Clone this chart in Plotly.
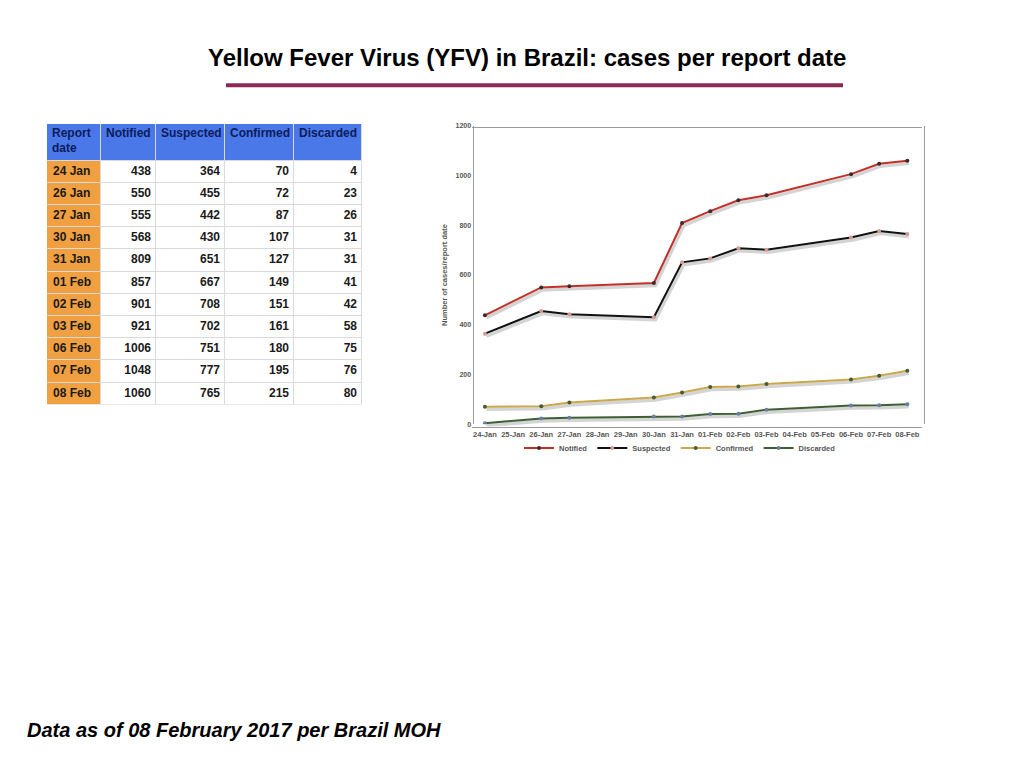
import plotly.graph_objects as go

# report dates and counts (Brazil MOH, as of 08 Feb 2017)
report_dates = ["2017-01-24", "2017-01-26", "2017-01-27", "2017-01-30", "2017-01-31",
                "2017-02-01", "2017-02-02", "2017-02-03", "2017-02-06", "2017-02-07",
                "2017-02-08"]
date_labels = ["24 Jan", "26 Jan", "27 Jan", "30 Jan", "31 Jan", "01 Feb", "02 Feb",
               "03 Feb", "06 Feb", "07 Feb", "08 Feb"]
notified = [438, 550, 555, 568, 809, 857, 901, 921, 1006, 1048, 1060]
suspected = [364, 455, 442, 430, 651, 667, 708, 702, 751, 777, 765]
confirmed = [70, 72, 87, 107, 127, 149, 151, 161, 180, 195, 215]
discarded = [4, 23, 26, 31, 31, 41, 42, 58, 75, 76, 80]

header_labels = ["Report<br>date", "Notified", "Suspected", "Confirmed", "Discarded"]

# the page body has an 8px margin, so the figure is a bit smaller than the window
PAGE_W, PAGE_H = 1024, 768
OFF = 8
W, H = PAGE_W - 2 * OFF, PAGE_H - 2 * OFF


def px_x(v):
    return (v - OFF) / W


def px_y(v):
    return 1 - (v - OFF) / H


FONT = "Liberation Sans, Arial"
BLUE = "#4A78E8"
ORANGE = "#F0A040"

fig = go.Figure()

# ---- table, drawn as a heatmap (cell fills) plus text ----
col_w = [54, 55, 69, 69, 68]
head_h = 37
row_h = 22.4
tab_left, tab_top = 47, 121

x_edges = [0]
for w in col_w:
    x_edges.append(x_edges[-1] + w)
y_edges = [0, head_h]
for _ in date_labels:
    y_edges.append(y_edges[-1] + row_h)
tab_w, tab_h = x_edges[-1], y_edges[-1]
row_mid = [(y_edges[i + 1] + y_edges[i + 2]) / 2 for i in range(len(date_labels))]

z = [[2] * len(col_w)] + [[1] + [0] * (len(col_w) - 1) for _ in date_labels]

fig.add_trace(go.Heatmap(
    x=x_edges, y=y_edges, z=z, xaxis="x2", yaxis="y2",
    zmin=0, zmax=2, showscale=False, hoverinfo="skip",
    colorscale=[[0, "white"], [0.33, "white"], [0.33, ORANGE], [0.66, ORANGE],
                [0.66, BLUE], [1, BLUE]],
    xgap=1, ygap=1,
))

fig.add_trace(go.Scatter(
    x=[x_edges[i] + 5 for i in range(len(col_w))], y=[4] * len(col_w),
    text=["<b>%s</b>" % h for h in header_labels],
    mode="text", textposition="bottom right", xaxis="x2", yaxis="y2",
    textfont=dict(family=FONT, size=12, color="#0C1C5C"),
    showlegend=False, hoverinfo="skip", cliponaxis=False,
))
fig.add_trace(go.Scatter(
    x=[x_edges[0] + 6] * len(date_labels), y=row_mid,
    text=["<b>%s</b>" % d for d in date_labels],
    mode="text", textposition="middle right", xaxis="x2", yaxis="y2",
    textfont=dict(family=FONT, size=12, color="#1A1A1A"),
    showlegend=False, hoverinfo="skip", cliponaxis=False,
))
for j, col in enumerate([notified, suspected, confirmed, discarded]):
    fig.add_trace(go.Scatter(
        x=[x_edges[j + 2] - 5] * len(col), y=row_mid,
        text=["<b>%d</b>" % v for v in col],
        mode="text", textposition="middle left", xaxis="x2", yaxis="y2",
        textfont=dict(family=FONT, size=12, color="#1A1A1A"),
        showlegend=False, hoverinfo="skip", cliponaxis=False,
    ))

# ---- line chart (with a soft drop shadow on a slightly shifted copy of the axes) ----
series = [
    ("Notified", notified, "#C2302A", "#3A2A2A"),
    ("Suspected", suspected, "#111111", "#D89A90"),
    ("Confirmed", confirmed, "#CBA84A", "#4A5A30"),
    ("Discarded", discarded, "#3E5E34", "#6A7EA0"),
]

for name, vals, line_col, marker_col in series:
    fig.add_trace(go.Scatter(
        x=report_dates, y=vals, mode="lines", xaxis="x", yaxis="y",
        line=dict(color="rgba(60,60,60,0.22)", width=3.5),
        showlegend=False, hoverinfo="skip",
    ))

for name, vals, line_col, marker_col in series:
    fig.add_trace(go.Scatter(
        x=report_dates, y=vals, name="<b>%s</b>" % name,
        mode="lines+markers", xaxis="x3", yaxis="y3",
        line=dict(color=line_col, width=2),
        marker=dict(color=marker_col, size=4),
    ))

small_font = dict(family=FONT, size=7.5, color="#555555")
x_range = ["2017-01-23 13:00", "2017-02-08 12:30"]
plot_l, plot_r, plot_t, plot_b = 472, 922, 123, 424
sh_dx, sh_dy = 1.5, 2.5

fig.update_layout(
    width=W, height=H,
    margin=dict(l=0, r=0, t=0, b=0),
    paper_bgcolor="white",
    plot_bgcolor="rgba(0,0,0,0)",
    font=small_font,
    xaxis=dict(
        domain=[px_x(plot_l + sh_dx), px_x(plot_r + sh_dx)],
        type="date", range=x_range, visible=False,
    ),
    yaxis=dict(
        domain=[px_y(plot_b + sh_dy), px_y(plot_t + sh_dy)],
        range=[0, 1200], visible=False,
    ),
    xaxis2=dict(
        domain=[px_x(tab_left), px_x(tab_left + tab_w)],
        range=[0, tab_w], visible=False, fixedrange=True,
    ),
    yaxis2=dict(
        domain=[px_y(tab_top + tab_h), px_y(tab_top)],
        range=[tab_h, 0], visible=False, fixedrange=True,
    ),
    xaxis3=dict(
        domain=[px_x(plot_l), px_x(plot_r)],
        type="date",
        range=x_range,
        dtick=86400000,
        tick0="2017-01-24",
        tickformat="<b>%d-%b</b>",
        tickfont=small_font,
        showgrid=False, zeroline=False,
        showline=True, linecolor="#9A9A9A", linewidth=1, mirror=True,
        ticks="",
    ),
    yaxis3=dict(
        domain=[px_y(plot_b), px_y(plot_t)],
        range=[0, 1200],
        tickvals=[0, 200, 400, 600, 800, 1000, 1200],
        ticktext=["<b>%d</b>" % v for v in [0, 200, 400, 600, 800, 1000, 1200]],
        tickfont=dict(family=FONT, size=7, color="#555555"),
        showgrid=False, zeroline=False,
        showline=True, linecolor="#9A9A9A", linewidth=1, mirror=True,
        ticks="",
        title=dict(text="<b>Number of cases/report date</b>", standoff=6,
                   font=dict(family=FONT, size=7.5, color="#555555")),
    ),
    showlegend=True,
    legend=dict(
        orientation="h",
        x=px_x(680), xanchor="center",
        y=px_y(448), yanchor="middle",
        font=small_font,
        itemwidth=30,
        bgcolor="rgba(0,0,0,0)",
    ),
    shapes=[
        dict(type="rect", xref="paper", yref="paper",
             x0=px_x(226), x1=px_x(843), y0=px_y(84), y1=px_y(80),
             fillcolor="#8C2A56", line_width=0),
        dict(type="rect", xref="x2", yref="y2", layer="below",
             x0=0, x1=tab_w, y0=0, y1=tab_h,
             fillcolor="#DADADA", line_width=0),
    ],
    annotations=[
        dict(text="<b>Yellow Fever Virus (YFV) in Brazil: cases per report date</b>",
             xref="paper", yref="paper", x=px_x(527), y=px_y(54),
             xanchor="center", yanchor="middle", showarrow=False,
             font=dict(family=FONT, size=24, color="black")),
        dict(text="<b><i>Data as of 08 February 2017 per Brazil MOH</i></b>",
             xref="paper", yref="paper", x=px_x(25), y=px_y(733),
             xanchor="left", yanchor="middle", showarrow=False,
             font=dict(family=FONT, size=20, color="black")),
    ],
)

fig.write_html("out.html")
